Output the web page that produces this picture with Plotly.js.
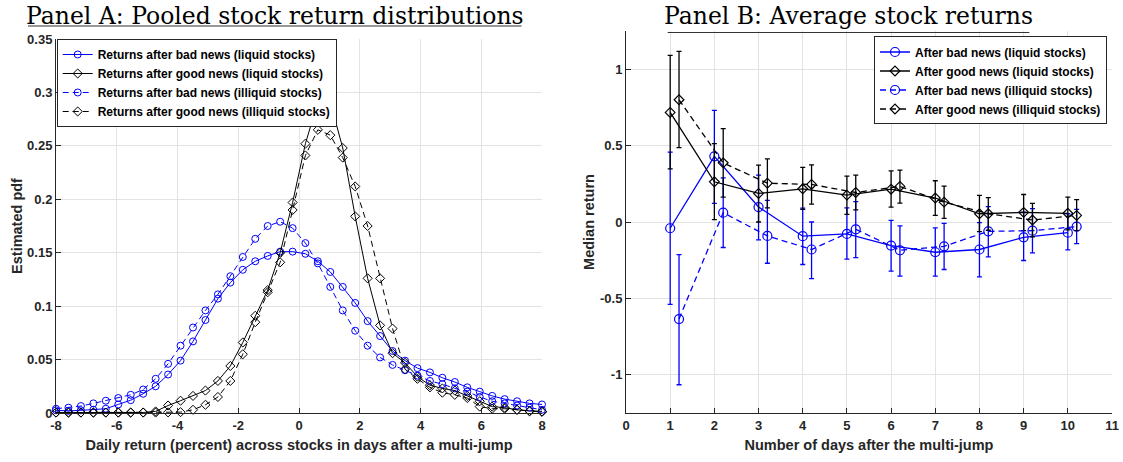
<!DOCTYPE html>
<html>
<head>
<meta charset="utf-8">
<script src="https://cdn.plot.ly/plotly-3.0.1.min.js"></script>
<style>html,body{margin:0;padding:0;background:#fff;}#chart{width:1123px;height:462px;}</style>
</head>
<body>
<div id="chart"></div>
<script>
// ---------- Panel A: pooled return distributions ----------
var retGrid = [-8.00, -7.59, -7.18, -6.77, -6.36, -5.95, -5.54, -5.13, -4.72, -4.31,
  -3.90, -3.49, -3.08, -2.67, -2.26, -1.85, -1.44, -1.03, -0.62, -0.21,
  0.21, 0.62, 1.03, 1.44, 1.85, 2.26, 2.67, 3.08, 3.49, 3.90,
  4.31, 4.72, 5.13, 5.54, 5.95, 6.36, 6.77, 7.18, 7.59, 8.00];

var pdfBadLiquid = [0.0025, 0.002, 0.0025, 0.003, 0.004, 0.008, 0.012, 0.018, 0.025, 0.036,
  0.049, 0.067, 0.087, 0.107, 0.122, 0.134, 0.142, 0.147, 0.151, 0.151,
  0.149, 0.142, 0.132, 0.118, 0.103, 0.086, 0.072, 0.058, 0.049, 0.042,
  0.038, 0.033, 0.029, 0.024, 0.020, 0.016, 0.013, 0.011, 0.009, 0.008];

var pdfGoodLiquid = [0.0004, 0.0004, 0.0004, 0.0004, 0.0004, 0.0004, 0.0004, 0.0005, 0.0015, 0.007,
  0.0115, 0.016, 0.021, 0.030, 0.044, 0.066, 0.091, 0.115, 0.150, 0.197,
  0.252, 0.291, 0.291, 0.248, 0.184, 0.126, 0.082, 0.056, 0.047, 0.034,
  0.026, 0.023, 0.021, 0.016, 0.011, 0.006, 0.005, 0.003, 0.002, 0.0015];

var pdfBadIlliquid = [0.004, 0.005, 0.0065, 0.009, 0.0115, 0.014, 0.017, 0.022, 0.032, 0.046,
  0.063, 0.080, 0.096, 0.111, 0.128, 0.146, 0.163, 0.175, 0.179, 0.173,
  0.159, 0.140, 0.118, 0.096, 0.077, 0.063, 0.052, 0.045, 0.040, 0.035,
  0.030, 0.027, 0.023, 0.020, 0.015, 0.011, 0.009, 0.007, 0.005, 0.003];

var pdfGoodIlliquid = [0.0004, 0.0004, 0.0004, 0.0004, 0.0004, 0.0004, 0.0004, 0.0004, 0.0004, 0.0006,
  0.0008, 0.003, 0.0077, 0.015, 0.030, 0.055, 0.085, 0.113, 0.141, 0.190,
  0.241, 0.265, 0.260, 0.239, 0.212, 0.175, 0.126, 0.079, 0.041, 0.032,
  0.024, 0.019, 0.017, 0.014, 0.006, 0.004, 0.004, 0.003, 0.0015, 0.001];

var namesA = ['Returns after bad news (liquid stocks)', 'Returns after good news (liquid stocks)',
  'Returns after bad news (illiquid stocks)', 'Returns after good news (illiquid stocks)'];

var xTicksA = [-8, -6, -4, -2, 0, 2, 4, 6, 8];
var xTickTextA = ['-8', '-6', '-4', '-2', '0', '2', '4', '6', '8'];
var yTicksA = [0, 0.05, 0.1, 0.15, 0.2, 0.25, 0.3, 0.35];
var yTickTextA = ['0', '0.05', '0.1', '0.15', '0.2', '0.25', '0.3', '0.35'];

// ---------- Panel B: median returns by day ----------
var daysLiquid = [1, 2, 3, 4, 5, 6, 7, 8, 9, 10];
var daysIlliquid = [1.2, 2.2, 3.2, 4.2, 5.2, 6.2, 7.2, 8.2, 9.2, 10.2];

var medBadLiquid = [-0.041, 0.430, 0.098, -0.093, -0.078, -0.154, -0.198, -0.180, -0.100, -0.070];
var hiBadLiquid  = [0.457, 0.730, 0.307, 0.091, 0.093, 0.011, -0.039, -0.004, 0.065, 0.054];
var loBadLiquid  = [-0.539, 0.122, -0.117, -0.278, -0.243, -0.322, -0.354, -0.359, -0.252, -0.183];

var medGoodLiquid = [0.717, 0.263, 0.187, 0.217, 0.176, 0.215, 0.157, 0.054, 0.063, 0.057];
var hiGoodLiquid  = [1.091, 0.513, 0.372, 0.357, 0.300, 0.335, 0.270, 0.174, 0.180, 0.163];
var loGoodLiquid  = [0.348, 0.015, 0.000, 0.083, 0.050, 0.098, 0.043, -0.063, -0.057, -0.052];

var medBadIlliquid = [-0.635, 0.061, -0.091, -0.180, -0.048, -0.185, -0.159, -0.061, -0.057, -0.030];
var hiBadIlliquid  = [-0.213, 0.289, 0.141, 0.000, 0.133, -0.026, -0.009, 0.100, 0.087, 0.083];
var loBadIlliquid  = [-1.065, -0.167, -0.270, -0.370, -0.233, -0.354, -0.311, -0.228, -0.202, -0.141];

var medGoodIlliquid = [0.800, 0.387, 0.254, 0.246, 0.193, 0.233, 0.130, 0.054, 0.013, 0.043];
var hiGoodIlliquid  = [1.117, 0.611, 0.413, 0.374, 0.307, 0.339, 0.235, 0.159, 0.122, 0.146];
var loGoodIlliquid  = [0.487, 0.163, 0.093, 0.117, 0.080, 0.124, 0.024, -0.054, -0.098, -0.057];

var namesB = ['After bad news (liquid stocks)', 'After good news (liquid stocks)',
  'After bad news (illiquid stocks)', 'After good news (illiquid stocks)'];

var xTicksB = [0, 1, 2, 3, 4, 5, 6, 7, 8, 9, 10, 11];
var yTicksB = [-1, -0.5, 0, 0.5, 1];
var yTickTextB = ['-1', '-0.5', '0', '0.5', '1'];

// ---------- styling ----------
var BLUE = '#0000ff', BLACK = '#000000', AXC = '#262626', GRID = '#e3e3e3';
var DASH = '6px,4px';

function lineA(y, name, color, dash, symbol) {
  return {
    type: 'scatter', mode: 'lines+markers', x: retGrid, y: y, name: name,
    xaxis: 'x', yaxis: 'y', legend: 'legend', cliponaxis: false,
    line: {color: color, width: 1, dash: dash},
    marker: {symbol: symbol, size: 7, color: color, line: {width: 1, color: color}}
  };
}
function diff(a, b) { return a.map(function (v, i) { return +(v - b[i]).toFixed(4); }); }
function lineB(x, y, hi, lo, name, color, dash, symbol, size) {
  return {
    type: 'scatter', mode: 'lines+markers', x: x, y: y, name: name,
    xaxis: 'x2', yaxis: 'y2', legend: 'legend2', cliponaxis: false,
    line: {color: color, width: 1.3, dash: dash},
    marker: {symbol: symbol, size: size, color: color, line: {width: 1.2, color: color}},
    error_y: {type: 'data', symmetric: false, array: diff(hi, y), arrayminus: diff(y, lo),
      color: color, thickness: 1.3, width: 2.5}
  };
}

var traces = [
  lineA(pdfBadLiquid, namesA[0], BLUE, 'solid', 'circle-open'),
  lineA(pdfGoodLiquid, namesA[1], BLACK, 'solid', 'diamond-open'),
  lineA(pdfBadIlliquid, namesA[2], BLUE, DASH, 'circle-open'),
  lineA(pdfGoodIlliquid, namesA[3], BLACK, DASH, 'diamond-open'),
  lineB(daysLiquid, medBadLiquid, hiBadLiquid, loBadLiquid, namesB[0], BLUE, 'solid', 'circle-open', 9),
  lineB(daysLiquid, medGoodLiquid, hiGoodLiquid, loGoodLiquid, namesB[1], BLACK, 'solid', 'diamond-open', 7.5),
  lineB(daysIlliquid, medBadIlliquid, hiBadIlliquid, loBadIlliquid, namesB[2], BLUE, DASH, 'circle-open', 9),
  lineB(daysIlliquid, medGoodIlliquid, hiGoodIlliquid, loGoodIlliquid, namesB[3], BLACK, DASH, 'diamond-open', 7.5)
];

var tickFont = {family: 'Liberation Sans, Arial, sans-serif', size: 13, color: AXC, weight: 'bold'};
var titleFont = {family: 'Liberation Sans, Arial, sans-serif', size: 14.5, color: AXC, weight: 'bold'};
var legFont = {family: 'Liberation Sans, Arial, sans-serif', size: 12, color: '#000', weight: 'bold'};
var headFont = {family: 'DejaVu Serif, Liberation Serif, serif', size: 23.5, color: '#000'};

function axis(extra) {
  var base = {
    showline: true, linecolor: AXC, linewidth: 1, mirror: false,
    ticks: 'inside', ticklen: 5, tickwidth: 1, tickcolor: AXC,
    showgrid: true, gridcolor: GRID, gridwidth: 1, zeroline: false,
    tickfont: tickFont, fixedrange: true, layer: 'above traces'
  };
  for (var k in extra) base[k] = extra[k];
  return base;
}

// pixel helpers for paper coordinates (plot area: x 56..1112, y 31..413.5)
var L = 56, R = 11, T = 31, B = 48.5, W = 1123, H = 462;
function px(x) { return (x - L) / (W - L - R); }
function py(y) { return (H - B - y) / (H - T - B); }

var layout = {
  width: W, height: H,
  margin: {l: L, r: R, t: T, b: B, pad: 0},
  paper_bgcolor: '#fff', plot_bgcolor: '#fff',
  showlegend: true,
  xaxis: axis({domain: [0, px(542)], range: [-8, 8], tickvals: xTicksA, ticktext: xTickTextA, anchor: 'y',
    title: {text: 'Daily return (percent) across stocks in days after a multi-jump', font: titleFont, standoff: 8}}),
  yaxis: axis({domain: [0, py(39)], range: [0, 0.35], tickvals: yTicksA, ticktext: yTickTextA, anchor: 'x',
    title: {text: 'Estimated pdf', font: titleFont, standoff: 1}}),
  xaxis2: axis({domain: [px(626), 1], range: [0, 11], tickvals: xTicksB, ticktext: xTicksB.map(String), anchor: 'y2',
    title: {text: 'Number of days after the multi-jump', font: titleFont, standoff: 8}}),
  yaxis2: axis({domain: [0, 1], range: [-1.25, 1.25], tickvals: yTicksB, ticktext: yTickTextB, anchor: 'x2',
    title: {text: 'Median return', font: titleFont, standoff: 1}}),
  legend: {x: px(56.7), y: py(39), xanchor: 'left', yanchor: 'top', bgcolor: '#fff',
    bordercolor: AXC, borderwidth: 1, font: legFont, itemwidth: 30, tracegroupgap: 0},
  legend2: {x: px(1107), y: py(36.5), xanchor: 'right', yanchor: 'top', bgcolor: '#fff',
    bordercolor: AXC, borderwidth: 1, font: legFont, itemwidth: 30, tracegroupgap: 0},
  annotations: [
    {text: 'Panel A: Pooled stock return distributions', xref: 'paper', yref: 'paper',
      x: px(274.5), y: py(0.5), xanchor: 'center', yanchor: 'top', showarrow: false, borderpad: 0,
      font: headFont},
    {text: 'Panel B: Average stock returns', xref: 'paper', yref: 'paper',
      x: px(848.5), y: py(0.5), xanchor: 'center', yanchor: 'top', showarrow: false, borderpad: 0,
      font: headFont}
  ],
  shapes: [
    {type: 'line', xref: 'paper', yref: 'paper', x0: px(28), x1: px(521.5), y0: py(26), y1: py(26),
      line: {color: '#333', width: 1.2}},
    {type: 'line', xref: 'paper', yref: 'paper', x0: px(667.7), x1: px(1029.3), y0: py(32.5), y1: py(32.5),
      line: {color: '#333', width: 1.2}}
  ]
};

Plotly.newPlot('chart', traces, layout, {staticPlot: true, displayModeBar: false});
</script>
</body>
</html>
